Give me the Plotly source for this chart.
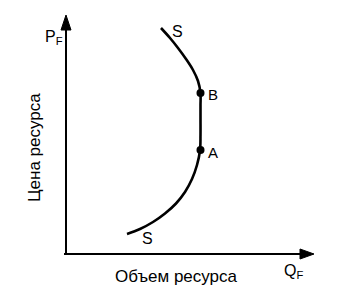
import plotly.graph_objects as go

# Supply curve S (quantity Q, price P), in axis units
curve_q = [61, 74, 87, 99, 110, 119, 126, 131, 134, 134.5, 134.5, 134.5, 134.5,
           132, 127, 120, 112, 104, 95]
curve_p = [20, 25, 32, 40.5, 50.5, 62, 75, 89, 103.5, 119, 134, 149, 161,
           173, 184, 195, 206, 216, 226]
# points A and B
pt_labels = ["A", "B"]
pt_q = [134.5, 134.5]
pt_p = [104, 161]

FONT = "Liberation Sans, Arial, sans-serif"

fig = go.Figure()
fig.add_trace(go.Scatter(x=curve_q, y=curve_p, mode="lines",
                         line=dict(color="black", width=2.6, shape="spline", smoothing=1),
                         hoverinfo="skip"))
fig.add_trace(go.Scatter(x=pt_q, y=pt_p, mode="markers",
                         marker=dict(color="black", size=8), hoverinfo="skip"))

shapes = [
    dict(type="line", x0=0, y0=0, x1=0, y1=228, line=dict(color="black", width=2)),
    dict(type="line", x0=-2, y0=0, x1=236, y1=0, line=dict(color="black", width=2)),
    dict(type="path", path="M -5,224 L 5,224 L 0,239 Z", fillcolor="black", line=dict(color="black", width=1)),
    dict(type="path", path="M 234,-5 L 234,5 L 248,0 Z", fillcolor="black", line=dict(color="black", width=1)),
]

ann = [
    dict(x=-12, y=217, text="P<sub>F</sub>", size=16),
    dict(x=227, y=-17, text="Q<sub>F</sub>", size=16),
    dict(x=110, y=-22, text="Объем ресурса", size=17),
    dict(x=-32, y=106, text="Цена ресурса", size=17, angle=-90),
    dict(x=111, y=223, text="S", size=16),
    dict(x=81, y=16, text="S", size=16),
    dict(x=147, y=102, text="A", size=15),
    dict(x=147, y=160, text="B", size=15),
]
annotations = []
for a in ann:
    annotations.append(dict(x=a["x"], y=a["y"], xref="x", yref="y", text=a["text"],
                            showarrow=False, textangle=a.get("angle", 0),
                            font=dict(family=FONT, size=a["size"], color="black"),
                            xanchor="center", yanchor="middle"))

fig.update_layout(
    width=355, height=290, margin=dict(l=0, r=0, t=0, b=0),
    paper_bgcolor="white", plot_bgcolor="white", showlegend=False,
    xaxis=dict(range=[-66, 289], visible=False, fixedrange=True),
    yaxis=dict(range=[-36, 254], visible=False, fixedrange=True),
    shapes=shapes, annotations=annotations,
)
fig.write_html("out.html", config={"displayModeBar": False})
